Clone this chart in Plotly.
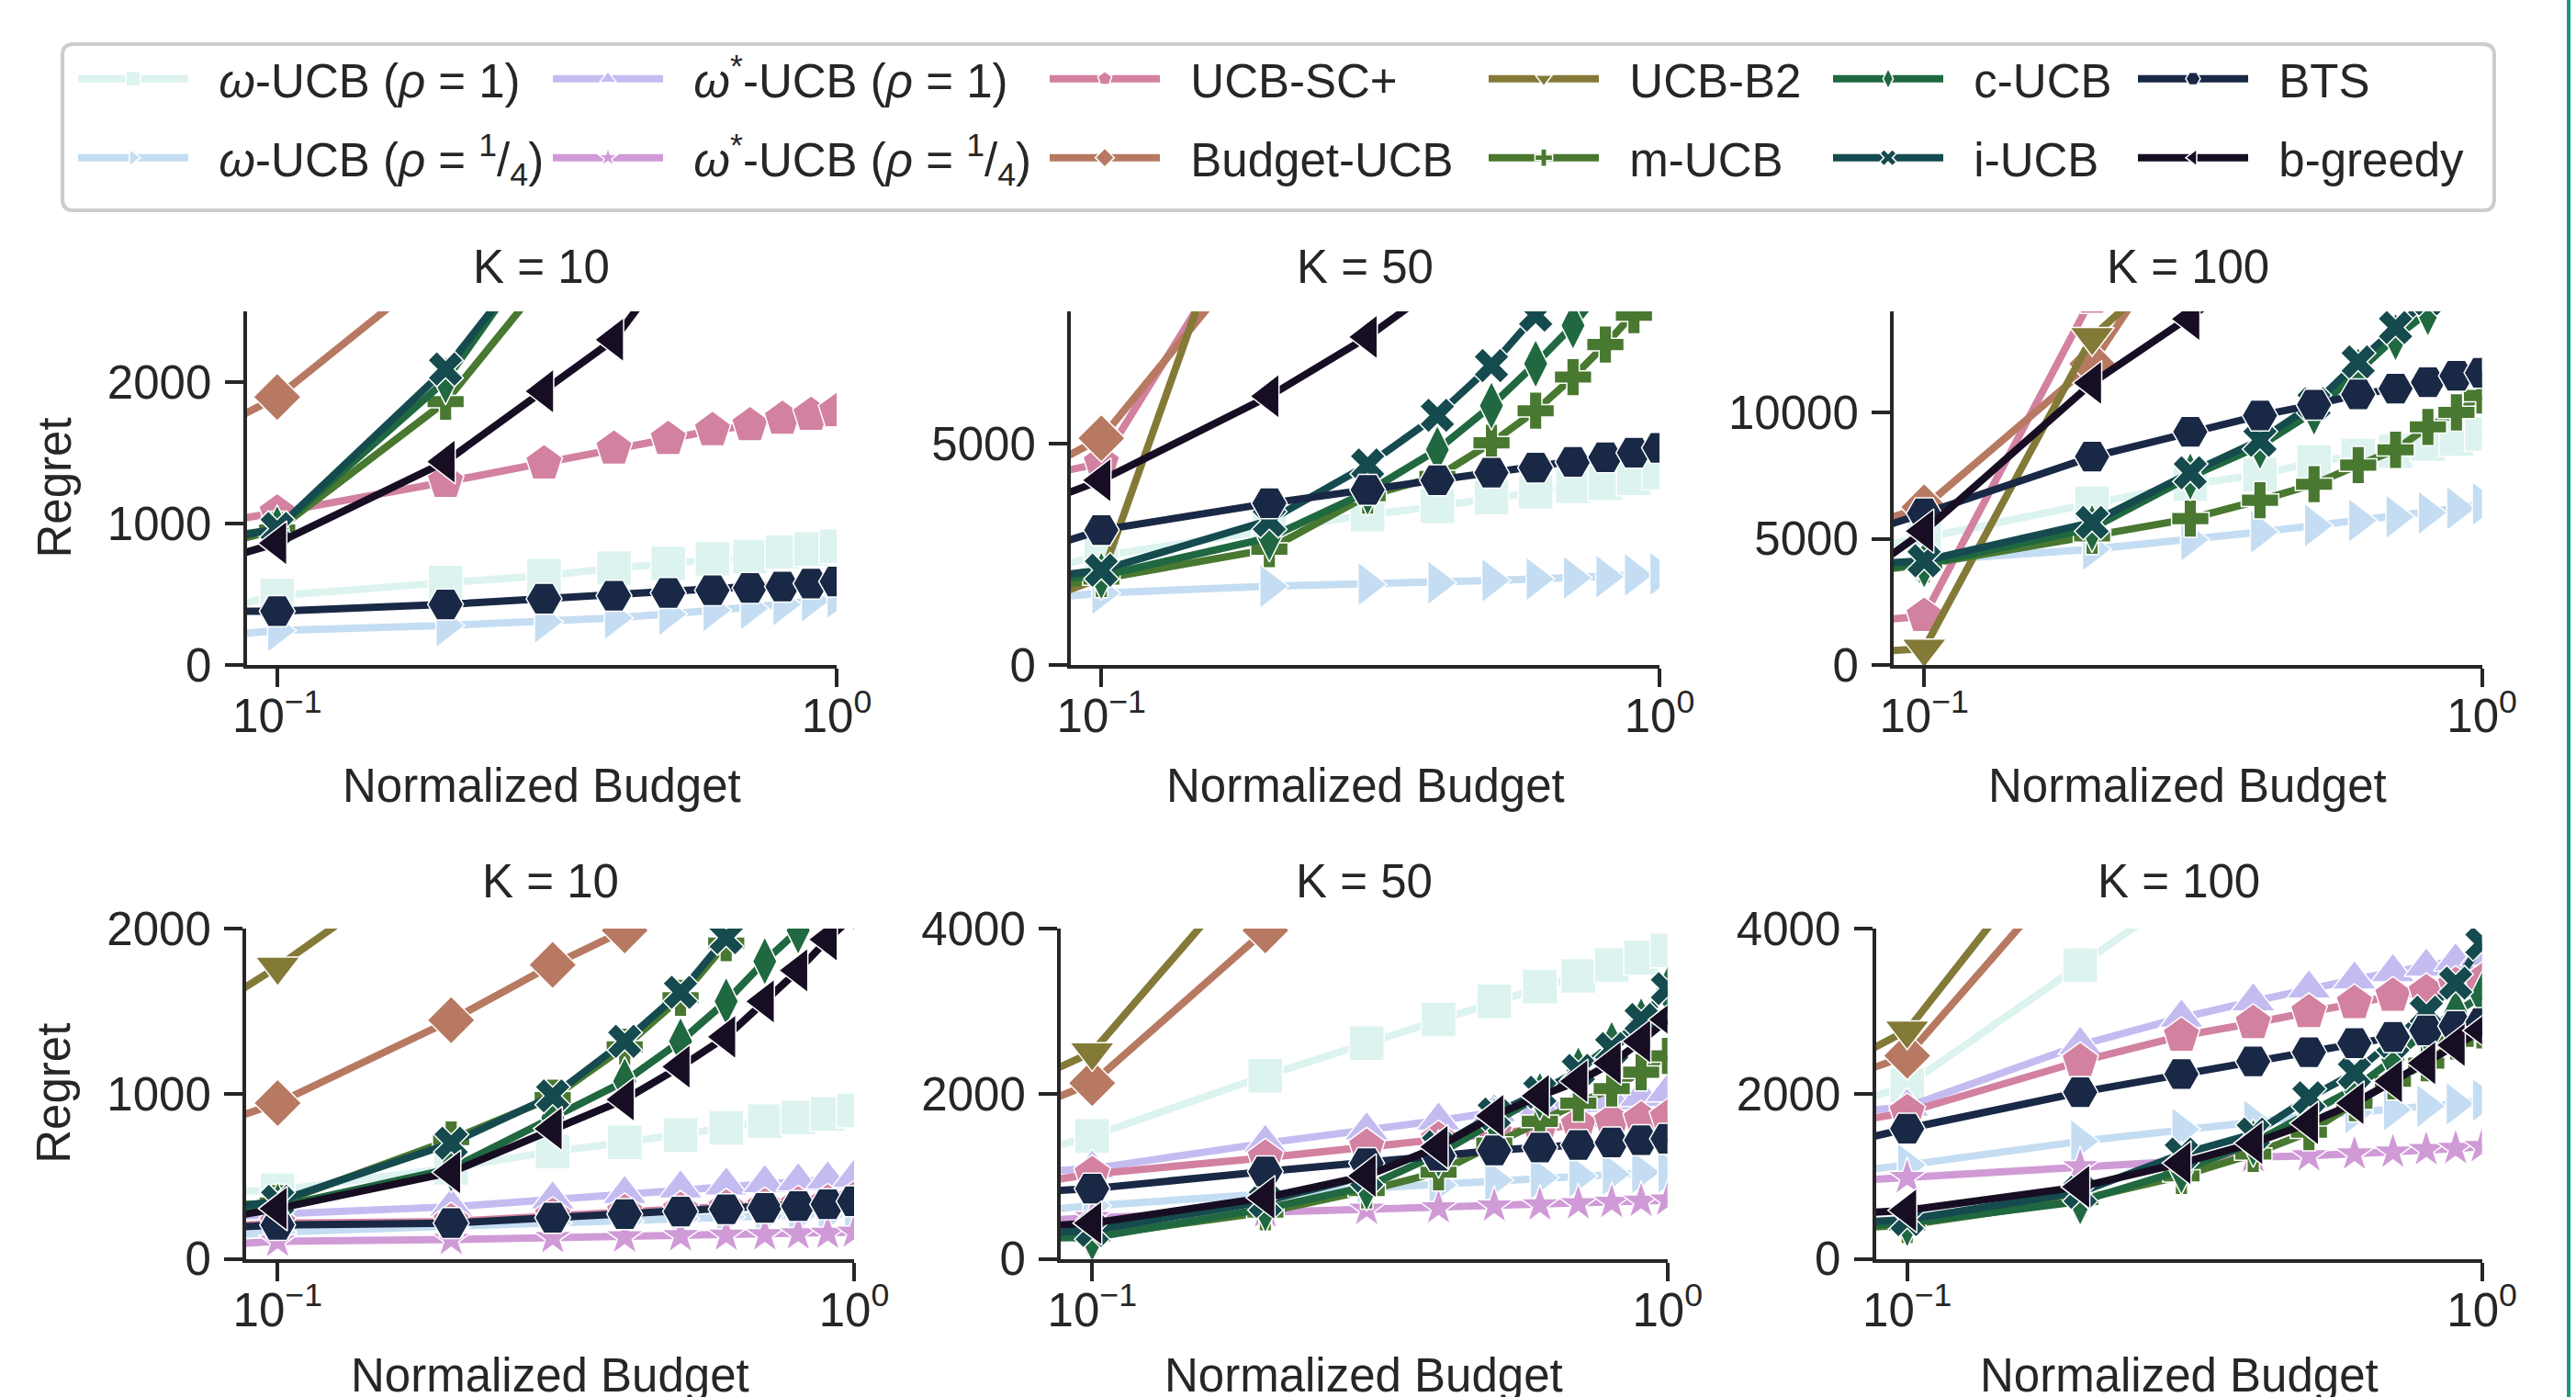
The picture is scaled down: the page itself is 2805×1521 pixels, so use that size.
import math
import plotly.graph_objects as go

# ---------------- data ----------------
budgets = [0.05, 0.1, 0.2, 0.3, 0.4, 0.5, 0.6, 0.7, 0.8, 0.9, 1.0]

panel_titles = ["K = 10", "K = 50", "K = 100", "K = 10", "K = 50", "K = 100"]
panel_ymax = [2500, 8000, 14000, 2000, 4000, 4000]
panel_yticks = [[0, 1000, 2000], [0, 5000], [0, 5000, 10000],
                [0, 1000, 2000], [0, 2000, 4000], [0, 2000, 4000]]
x_tickvals = [0.1, 1.0]
x_ticktext = ["10<sup>−1</sup>", "10<sup>0</sup>"]

# rows: top-left, top-mid, top-right, bottom-left, bottom-mid, bottom-right
omega_ucb_rho1 = [
    [221, 490, 582, 631, 685, 717, 750, 766, 798, 820, 839],
    [1657, 2465, 3053, 3399, 3590, 3789, 3918, 4039, 4109, 4221, 4351],
    [3791, 5038, 6400, 7156, 7535, 8034, 8291, 8473, 8745, 8950, 9150],
    [390, 414, 551, 650, 705, 749, 793, 833, 855, 877, 899],
    [885, 1489, 2216, 2612, 2898, 3119, 3295, 3427, 3559, 3647, 3735],
    [1403, 2100, 3559, 4365, 5000, 5500, 5900, 6250, 6550, 6800, 7050],
]
omega_ucb_rho14 = [
    [139, 244, 279, 306, 333, 360, 387, 400, 428, 455, 482],
    [1296, 1626, 1782, 1825, 1860, 1912, 1946, 1972, 1998, 2033, 2059],
    [3301, 4130, 4584, 4963, 5265, 5522, 5719, 5870, 6022, 6200, 6380],
    [100, 161, 198, 216, 227, 242, 255, 260, 264, 271, 275],
    [451, 643, 784, 850, 894, 951, 982, 1004, 1026, 1048, 1057],
    [894, 1136, 1423, 1568, 1665, 1731, 1775, 1806, 1850, 1876, 1920],
]
omega_star_rho1 = [
    None, None, None,
    [211, 271, 315, 359, 392, 425, 443, 458, 469, 480, 491],
    [971, 1092, 1401, 1555, 1674, 1775, 1841, 1885, 1920, 1960, 2017],
    [1649, 1841, 2590, 2921, 3119, 3273, 3383, 3471, 3537, 3603, 3669],
]
omega_star_rho14 = [
    None, None, None,
    [46, 106, 117, 128, 132, 139, 143, 145, 150, 154, 161],
    [377, 498, 564, 599, 617, 639, 652, 665, 683, 696, 709],
    [861, 982, 1114, 1181, 1233, 1247, 1269, 1291, 1321, 1335, 1357],
]
ucb_sc_plus = [
    [884, 1077, 1294, 1424, 1529, 1597, 1659, 1694, 1740, 1767, 1794],
    [3760, 4567, 10700, 12500, 13500, 14200, 14800, 15300, 15700, 16000, 16300],
    [1354, 1937, 14540, 17000, 18500, 19500, 20300, 21000, 21600, 22100, 22500],
    [155, 215, 226, 259, 281, 296, 310, 318, 329, 340, 358],
    [713, 1026, 1225, 1357, 1445, 1524, 1577, 1621, 1665, 1687, 1709],
    [1412, 1775, 2392, 2700, 2854, 2987, 3097, 3185, 3229, 3317, 3361],
]
budget_ucb = [
    [1284, 1894, 2850, 3500, 4000, 4400, 4750, 5050, 5300, 5550, 5750],
    [3130, 5130, 9780, 12500, 14500, 16000, 17300, 18400, 19300, 20100, 20800],
    [4167, 6249, 11923, 17800, 21000, 23500, 25500, 27000, 28500, 29700, 30800],
    [581, 943, 1445, 1780, 1989, 2180, 2350, 2500, 2640, 2760, 2870],
    [1277, 2128, 3978, 5500, 6500, 7300, 7900, 8400, 8800, 9200, 9500],
    [1732, 2458, 4864, 6000, 6900, 7600, 8200, 8700, 9100, 9500, 9800],
]
ucb_b2 = [
    [2700, 2950, 3500, 3950, 4300, 4600, 4850, 5100, 5300, 5500, 5700],
    [549, 1972, 12700, 15500, 17500, 19000, 20300, 21400, 22300, 23100, 23800],
    [238, 650, 12980, 16500, 19000, 21000, 22500, 23800, 25000, 26000, 26900],
    [1104, 1769, 2512, 2900, 3200, 3450, 3650, 3800, 3950, 4100, 4200],
    [1535, 2502, 4934, 6500, 7600, 8400, 9100, 9700, 10200, 10600, 11000],
    [1678, 2766, 5433, 6800, 7800, 8600, 9200, 9800, 10300, 10700, 11100],
]
m_ucb = [
    [659, 955, 1862, 2720, 3500, 4200, 4800, 5400, 5900, 6400, 6800],
    [1375, 1946, 2621, 3832, 4264, 5026, 5752, 6513, 7249, 7915, 8600],
    [3149, 3979, 5114, 5795, 6521, 7156, 7913, 8518, 9426, 10000, 10668],
    [298, 337, 722, 976, 1284, 1581, 1912, 2200, 2450, 2650, 2850],
    [156, 277, 564, 828, 1048, 1401, 1665, 1885, 2062, 2260, 2458],
    [289, 410, 718, 1004, 1269, 1533, 1885, 2150, 2370, 2634, 2766],
]
c_ucb = [
    [784, 960, 2011, 2950, 3700, 4400, 5000, 5600, 6100, 6600, 7000],
    [1779, 2015, 2880, 3918, 4870, 5865, 6816, 7681, 8600, 9400, 10100],
    [3567, 3979, 5417, 7459, 8670, 10031, 11620, 12982, 13965, 15000, 16000],
    [276, 315, 546, 855, 1075, 1317, 1559, 1802, 1989, 2200, 2400],
    [255, 255, 608, 872, 1269, 1665, 1973, 2282, 2590, 2876, 3251],
    [311, 432, 696, 1070, 1401, 1753, 2062, 2414, 2766, 2987, 3185],
]
i_ucb = [
    [718, 965, 2092, 2980, 3750, 4450, 5050, 5650, 6150, 6650, 7050],
    [1672, 2145, 3270, 4524, 5649, 6773, 7915, 9000, 9900, 10700, 11400],
    [3718, 4130, 5644, 7610, 8896, 10334, 11998, 13360, 14500, 15500, 16400],
    [227, 348, 700, 987, 1317, 1614, 1945, 2250, 2500, 2700, 2900],
    [223, 344, 696, 1004, 1357, 1753, 2017, 2282, 2546, 2898, 3273],
    [355, 476, 806, 1269, 1511, 1951, 2250, 2634, 2987, 3339, 3820],
]
bts = [
    [380, 380, 428, 468, 490, 509, 528, 544, 555, 576, 590],
    [1866, 3053, 3659, 3962, 4178, 4351, 4463, 4593, 4697, 4801, 4913],
    [3874, 6000, 8246, 9229, 9880, 10304, 10712, 10939, 11196, 11450, 11569],
    [145, 205, 216, 249, 271, 286, 300, 308, 319, 330, 348],
    [729, 850, 1057, 1159, 1247, 1313, 1348, 1379, 1410, 1436, 1454],
    [1093, 1577, 2017, 2238, 2392, 2502, 2612, 2687, 2766, 2819, 2854],
]
b_greedy = [
    [515, 861, 1437, 1935, 2300, 2813, 3200, 3550, 3850, 4150, 4400],
    [2750, 4178, 6081, 7422, 8569, 9500, 10300, 11000, 11600, 12100, 12600],
    [536, 5300, 11166, 13700, 15500, 17000, 18200, 19200, 20100, 20900, 21600],
    [123, 304, 524, 788, 965, 1163, 1344, 1559, 1747, 1934, 2080],
    [311, 432, 740, 1004, 1357, 1731, 1973, 2150, 2370, 2634, 2898],
    [465, 586, 872, 1159, 1401, 1643, 1885, 2150, 2370, 2590, 2766],
]

series_names = [
    "<i>ω</i>-UCB (<i>ρ</i> = 1)",
    "<i>ω</i>-UCB (<i>ρ</i> = <sup>1</sup>/<sub>4</sub>)",
    "<i>ω</i><sup>*</sup>-UCB (<i>ρ</i> = 1)",
    "<i>ω</i><sup>*</sup>-UCB (<i>ρ</i> = <sup>1</sup>/<sub>4</sub>)",
    "UCB-SC+", "Budget-UCB", "UCB-B2", "m-UCB", "c-UCB", "i-UCB", "BTS", "b-greedy",
]
series_data = [omega_ucb_rho1, omega_ucb_rho14, omega_star_rho1, omega_star_rho14,
               ucb_sc_plus, budget_ucb, ucb_b2, m_ucb, c_ucb, i_ucb, bts, b_greedy]

# ---------------- style ----------------
symbols = ["square", "triangle-right", "triangle-up", "star", "pentagon", "diamond",
           "triangle-down", "cross", "diamond-tall", "x", "hexagon2", "triangle-left"]
sizes = [38, 42, 42, 32, 42, 40, 42, 34, 38, 34, 39, 42]


def cubehelix(x, gamma=1.0, s=0.5, r=-1.5, h=1.0):
    xg = x ** gamma
    a = h * xg * (1 - xg) / 2
    phi = 2 * math.pi * (s / 3 + r * x)
    rr = xg + a * (-0.14861 * math.cos(phi) + 1.78277 * math.sin(phi))
    gg = xg + a * (-0.29227 * math.cos(phi) - 0.90649 * math.sin(phi))
    bb = xg + a * (1.97294 * math.cos(phi))
    c = [min(1, max(0, v)) for v in (rr, gg, bb)]
    return "#%02x%02x%02x" % tuple(int(round(v * 255)) for v in c)


n_series = len(series_names)
colors = []
for k in range(n_series):
    pos = (k + 1) / (n_series + 1)
    idx = min(int(pos * 256), 255)
    colors.append(cubehelix(1 - idx / 255))

W, H = 2805, 1521
FONT = "Liberation Sans, Arial, Helvetica, sans-serif"
TXT = "#262626"
FS = 51
NBSP = "\u00a0"


def px(x):
    return x / W


def py(y):
    return 1 - y / H


x_dom_px = [(268.5, 911), (1166, 1807), (2062, 2702.6),
            (268, 930), (1155, 1815.7), (2042.5, 2702.6)]
y_dom_px = [(339, 724)] * 3 + [(1011, 1370.5)] * 3
title_y_px = [291] * 3 + [959] * 3
xlabel_y_px = [855] * 3 + [1497] * 3

fig = go.Figure()

legend_col_x = [85, 602, 1143, 1621, 1996, 2328]
legend_row_y = [86, 172]

shown = set()
for p in range(6):
    xa = "x" if p == 0 else "x%d" % (p + 1)
    ya = "y" if p == 0 else "y%d" % (p + 1)
    for k in range(n_series):
        vals = series_data[k][p]
        if vals is None:
            continue
        lg = "legend" if k == 0 else "legend%d" % (k + 1)
        show = k not in shown
        shown.add(k)
        fig.add_trace(go.Scatter(
            x=budgets, y=vals, mode="lines+markers",
            name=NBSP * 2 + series_names[k],
            xaxis=xa, yaxis=ya, legend=lg, showlegend=show, legendgroup=str(k),
            line=dict(color=colors[k], width=8),
            marker=dict(symbol=symbols[k], size=sizes[k], color=colors[k],
                        line=dict(color="white", width=1.5)),
            cliponaxis=True, hoverinfo="skip",
        ))

layout = dict(
    width=W, height=H, margin=dict(l=0, r=0, t=0, b=0, autoexpand=False),
    paper_bgcolor="white", plot_bgcolor="white",
    font=dict(family=FONT, size=FS, color=TXT),
    annotations=[], shapes=[],
)

axis_common = dict(showline=True, linewidth=4, linecolor=TXT, ticks="outside",
                   ticklen=20, tickwidth=4, tickcolor=TXT, showgrid=False,
                   zeroline=False, automargin=False,
                   tickfont=dict(family=FONT, size=FS, color=TXT))

for p in range(6):
    xn = "xaxis" if p == 0 else "xaxis%d" % (p + 1)
    yn = "yaxis" if p == 0 else "yaxis%d" % (p + 1)
    ya = "y" if p == 0 else "y%d" % (p + 1)
    xa = "x" if p == 0 else "x%d" % (p + 1)
    x0, x1 = x_dom_px[p]
    y0, y1 = y_dom_px[p]
    layout[xn] = dict(axis_common, type="log", range=[-1.0547, 0],
                      domain=[px(x0), px(x1)], anchor=ya,
                      tickmode="array", tickvals=x_tickvals, ticktext=x_ticktext,
                      ticklabelstandoff=-12)
    layout[yn] = dict(axis_common, range=[0, panel_ymax[p]],
                      domain=[py(y1), py(y0)], anchor=xa,
                      tickmode="array", tickvals=panel_yticks[p],
                      ticktext=[str(v) for v in panel_yticks[p]],
                      ticklabelstandoff=4)
    cx = px((x0 + x1) / 2)
    layout["annotations"].append(dict(
        text=panel_titles[p], x=cx, y=py(title_y_px[p]), xref="paper", yref="paper",
        xanchor="center", yanchor="middle", showarrow=False,
        font=dict(family=FONT, size=FS, color=TXT)))
    layout["annotations"].append(dict(
        text="Normalized Budget", x=cx, y=py(xlabel_y_px[p]), xref="paper", yref="paper",
        xanchor="center", yanchor="middle", showarrow=False,
        font=dict(family=FONT, size=FS, color=TXT)))
    if p in (0, 3):
        layout["annotations"].append(dict(
            text="Regret", x=px(59), y=py((y0 + y1) / 2), xref="paper", yref="paper",
            xanchor="center", yanchor="middle", showarrow=False, textangle=-90,
            font=dict(family=FONT, size=FS, color=TXT)))

for k in range(n_series):
    lg = "legend" if k == 0 else "legend%d" % (k + 1)
    col, row = k // 2, k % 2
    layout[lg] = dict(
        x=px(legend_col_x[col] - 5), y=py(legend_row_y[row]),
        xanchor="left", yanchor="middle", bgcolor="rgba(0,0,0,0)", borderwidth=0,
        font=dict(family=FONT, size=FS, color=TXT), itemwidth=120, itemsizing="trace",
    )

# legend frame (rounded rectangle)
bx0, by0, bx1, by1, rad = 68, 48, 2716, 229, 12
rx, ry = rad / W, rad / H
X0, X1, Y0, Y1 = px(bx0), px(bx1), py(by0), py(by1)
frame = ("M %f,%f L %f,%f Q %f,%f %f,%f L %f,%f Q %f,%f %f,%f L %f,%f Q %f,%f %f,%f "
         "L %f,%f Q %f,%f %f,%f Z") % (
    X0 + rx, Y0, X1 - rx, Y0, X1, Y0, X1, Y0 - ry,
    X1, Y1 + ry, X1, Y1, X1 - rx, Y1,
    X0 + rx, Y1, X0, Y1, X0, Y1 + ry,
    X0, Y0 - ry, X0, Y0, X0 + rx, Y0)
layout["shapes"].append(dict(type="path", path=frame, xref="paper", yref="paper",
                             line=dict(color="#cccccc", width=4), fillcolor="white",
                             layer="below"))
# thin teal border line at right edge of the image
layout["shapes"].append(dict(type="line", x0=px(2797), x1=px(2797), y0=0, y1=1,
                             xref="paper", yref="paper",
                             line=dict(color="#1a9a80", width=4)))

fig.update_layout(**layout)

fig.write_html("out.html", config={"displayModeBar": False},
               post_script="document.body.style.margin='0px';document.body.style.overflow='hidden';")
